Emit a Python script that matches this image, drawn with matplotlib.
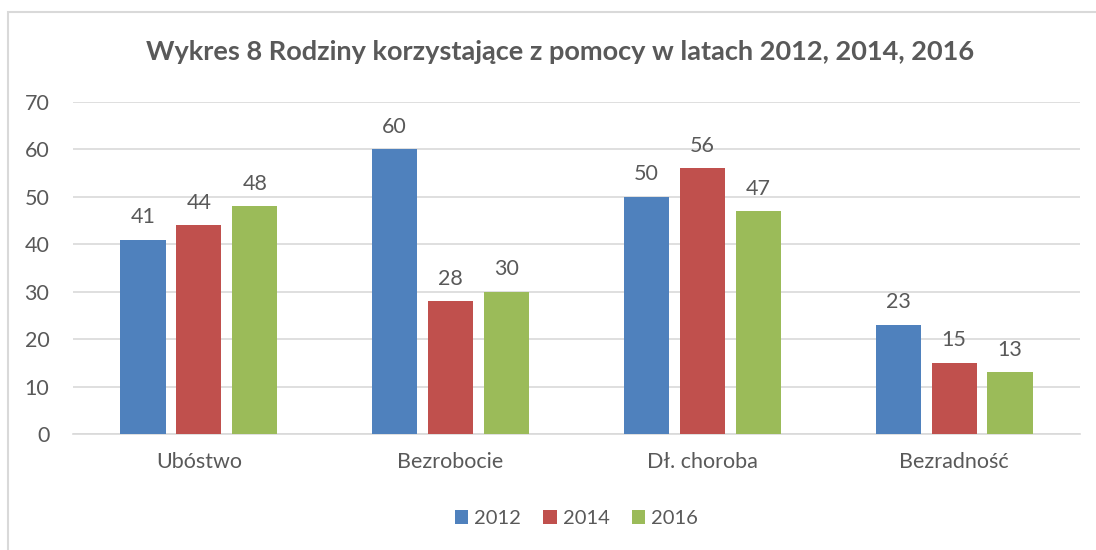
import numpy as np
import matplotlib.pyplot as plt
from matplotlib.patches import Rectangle

plt.rcParams['font.family'] = ['Lato', 'DejaVu Sans']

categories = ['Ubóstwo', 'Bezrobocie', 'Dł. choroba', 'Bezradność']
years = ['2012', '2014', '2016']
v2012 = [41, 60, 50, 23]
v2014 = [44, 28, 56, 15]
v2016 = [48, 30, 47, 13]
colors = ['#4F81BD', '#C0504D', '#9BBB59']
txt = '#595959'

fig = plt.figure(figsize=(10.96, 5.5), dpi=100)
ax = fig.add_axes([0.0666, 0.2109, 0.9188, 0.6036])

# ramka wykresu (wychodzi poza obraz z prawej i od dołu)
fig.patches.append(Rectangle((8 / 1096, -0.05), 1.1, 1 - 12 / 550 + 0.05,
                             transform=fig.transFigure, fill=False,
                             edgecolor='#D9D9D9', linewidth=1.5))

x = np.arange(len(categories))
w = 0.179
step = 0.222
for i, (vals, yr) in enumerate(zip([v2012, v2014, v2016], years)):
    bars = ax.bar(x + (i - 1) * step, vals, width=w, color=colors[i], label=yr, zorder=3)
    for b, v in zip(bars, vals):
        ax.annotate(str(v), (b.get_x() + b.get_width() / 2, v), xytext=(0, 9),
                    textcoords='offset points', ha='center', va='bottom',
                    fontsize=15.5, color=txt)

ax.set_xlim(-0.5, len(categories) - 0.5)
ax.set_ylim(0, 70)
ax.set_yticks(range(0, 71, 10))
ax.grid(axis='y', color='#D9D9D9', linewidth=1.2, zorder=0)
for s in ['top', 'right', 'left']:
    ax.spines[s].set_visible(False)
ax.spines['bottom'].set_color('#D9D9D9')
ax.spines['bottom'].set_linewidth(1.2)
ax.tick_params(axis='both', length=0, labelsize=15.5, labelcolor=txt)
ax.tick_params(axis='y', pad=17)
ax.tick_params(axis='x', pad=13)
ax.set_xticks(x)
ax.set_xticklabels(categories)

fig.text(0.511, 0.905, 'Wykres 8 Rodziny korzystające z pomocy w latach 2012, 2014, 2016',
         ha='center', va='center', fontsize=19.5, fontweight='bold', color=txt)

ax.legend(loc='center', bbox_to_anchor=(0.5, -0.255), ncol=3, frameon=False,
          fontsize=14.5, labelcolor=txt, handlelength=0.65, handleheight=0.65,
          handletextpad=0.3, columnspacing=1.1)

fig.savefig('out.png', dpi=100)
